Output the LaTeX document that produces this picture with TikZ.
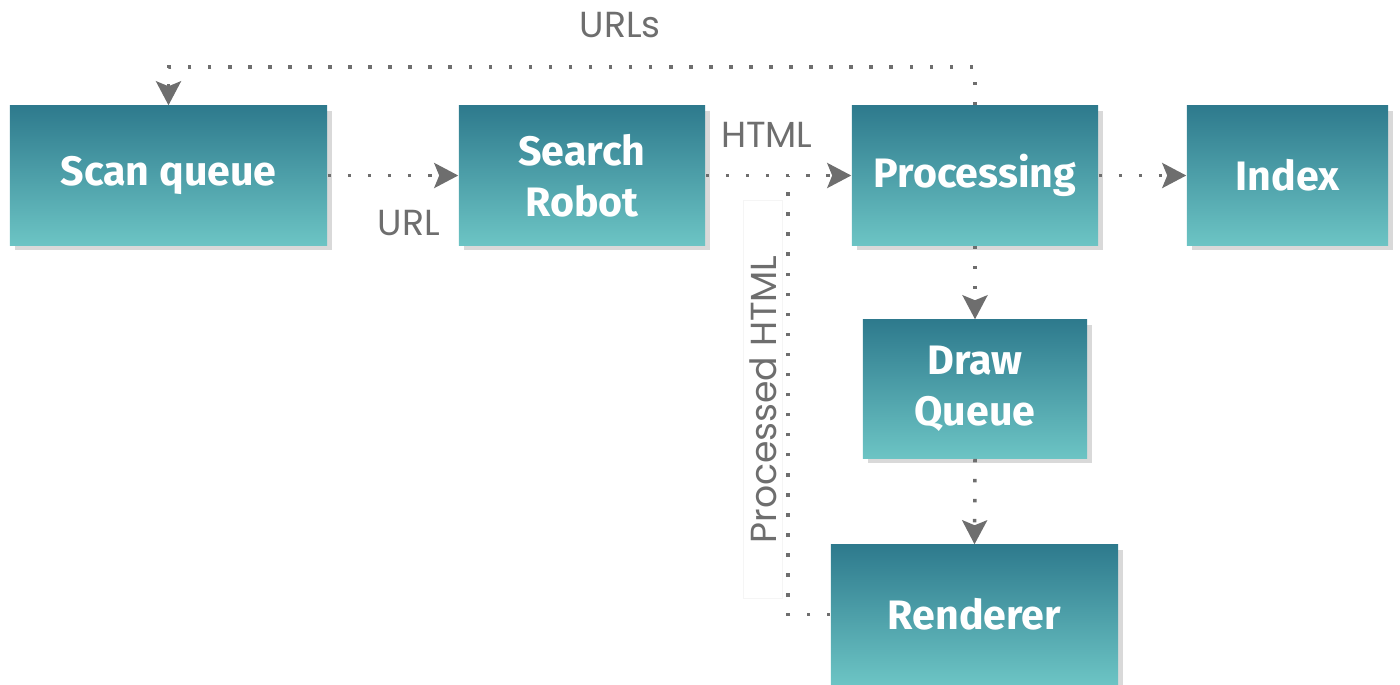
\documentclass[tikz,border=0pt]{standalone}
\usepackage{fontspec}
\setsansfont{Fira Sans}
\newfontfamily\lblfont{Poppins}
\usetikzlibrary{arrows.meta, shadows}

\definecolor{tealtop}{HTML}{2E7A8D}
\definecolor{tealbot}{HTML}{6CC4C4}
\definecolor{flowgray}{HTML}{6E6E6E}

\begin{document}
\begin{tikzpicture}[x=0.01cm, y=-0.01cm,
	stage/.style={rectangle, top color=tealtop, bottom color=tealbot, draw=none,
		text=white, align=center, inner sep=0pt,
		font=\sffamily\bfseries\fontsize{11.7}{14.5}\selectfont,
		drop shadow={shadow xshift=0.5mm, shadow yshift=-0.5mm, opacity=0.3}},
	dots/.style={flowgray, line width=1pt, dash pattern=on 1pt off 4.7pt},
	flow/.style={dots, -{Stealth[length=2.4mm, width=2.5mm, inset=0.5mm]}},
	lbl/.style={text=flowgray, inner sep=0pt, font=\lblfont\fontsize{10.3}{12}\selectfont}]
	\useasboundingbox (0,0) rectangle (1400,684);

	% stages
	\node[stage, minimum width=3.17cm, minimum height=1.39cm] (scan) at (168.5,175.5) {Scan queue};
	\node[stage, minimum width=2.46cm, minimum height=1.39cm] (robot) at (582,175.5) {Search\\Robot};
	\node[stage, minimum width=2.46cm, minimum height=1.39cm] (proc) at (975,175.5) {Processing};
	\node[stage, minimum width=2.01cm, minimum height=1.39cm] (idx) at (1287.5,175.5) {Index};
	\node[stage, minimum width=2.24cm, minimum height=1.38cm] (drawq) at (975,389) {Draw\\Queue};
	\node[stage, minimum width=2.87cm, minimum height=1.39cm] (rend) at (974.5,614.5) {Renderer};

	% flows
	\draw[flow] (scan.east) -- node[lbl, below=3.3mm, pos=0.62] (url) {URL} (robot.west);
	\draw[flow] (robot.east) -- node[lbl, above=2.6mm, pos=0.42] (html) {HTML} (proc.west);
	\draw[flow] (proc.east) -- (idx.west);
	\draw[flow] (proc.south) -- (drawq.north);
	\draw[flow] (drawq.south) -- (rend.north);
	\draw[flow] (proc.north) -- (proc.north |- 0,67)
		-- node[lbl, above=2.7mm, pos=0.44] (urls) {URLs} (scan.north |- 0,67) -- (scan.north);
	\draw[dots] (rend.west) -| node[lbl, sloped, pos=0.745, yshift=2.5mm, draw=black!4, solid, thin,
		minimum width=3.98cm, minimum height=0.39cm] (phtml) {Processed HTML} ([xshift=8.2mm]robot.east);
\end{tikzpicture}
\end{document}
